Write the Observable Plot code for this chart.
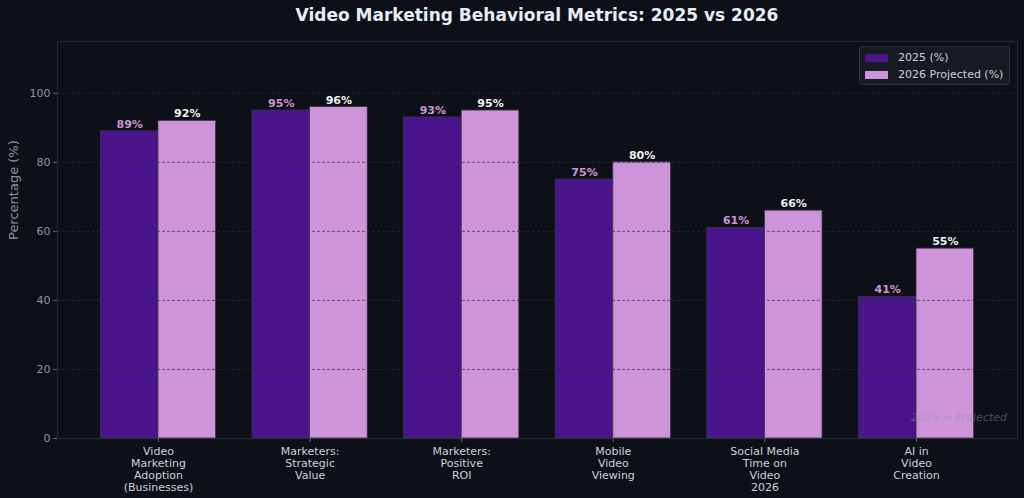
<!DOCTYPE html>
<html>
<head>
<meta charset="utf-8">
<script src="https://cdn.jsdelivr.net/npm/d3@7"></script>
<script src="https://cdn.jsdelivr.net/npm/@observablehq/plot@0.6"></script>
<style>
  html, body { margin: 0; padding: 0; background: #0d1117; }
  #wrap { position: relative; width: 1024px; height: 498px; background: #0d1117; font-family: "DejaVu Sans", sans-serif; overflow: hidden; }
  #title { height: 32px; line-height: 30px; text-align: center; color: #e6edf3; font-weight: bold; font-size: 17px; padding-left: 50px; }
  #legend { position: absolute; left: 859px; top: 46px; width: 151px; height: 39px; background: #161b22; border: 1px solid #2a323c; border-radius: 3px; box-sizing: border-box; padding: 2px 5px; color: #c9d1d9; font-size: 11px; white-space: nowrap; }
  #legend .row { display: flex; align-items: center; height: 17px; }
  #legend .sw { width: 23px; height: 8px; margin-right: 10px; flex: none; }
  #note { position: absolute; right: 17px; top: 411px; color: #8b949e; opacity: 0.45; font-style: italic; font-size: 11px; }
</style>
</head>
<body>
<div id="wrap">
  <div id="title">Video Marketing Behavioral Metrics: 2025 vs 2026</div>
  <div id="chart"></div>
  <div id="legend"></div>
  <div id="note">2026 = Projected</div>
</div>
<script>
// Metric names (line breaks as shown under each group)
const categories = [
  "Video\nMarketing\nAdoption\n(Businesses)",
  "Marketers:\nStrategic\nValue",
  "Marketers:\nPositive\nROI",
  "Mobile\nVideo\nViewing",
  "Social Media\nTime on\nVideo\n2026",
  "AI in\nVideo\nCreation"
];
const values2025 = [89, 95, 93, 75, 61, 41];
const values2026 = [92, 96, 95, 80, 66, 55];
const seriesNames = ["2025 (%)", "2026 Projected (%)"];
const seriesColors = ["#4a148c", "#ce93d8"];
const labelColors = ["#ce93d8", "#f0f0f0"];
const yTicks = [0, 20, 40, 60, 80, 100];

const barWidth = 0.38;

// Long-format rows: one per bar
const rows = [];
categories.forEach((c, i) => {
  rows.push({i, cat: c, series: seriesNames[0], value: values2025[i], x1: i - barWidth, x2: i});
  rows.push({i, cat: c, series: seriesNames[1], value: values2026[i], x1: i, x2: i + barWidth});
});

const chart = Plot.plot({
  width: 1024,
  height: 466,
  marginTop: 9,
  marginBottom: 60,
  marginLeft: 57,
  marginRight: 7,
  style: {background: "#0d1117", fontFamily: "DejaVu Sans, sans-serif", overflow: "visible"},
  x: {domain: [-0.666, 5.666], axis: null},
  y: {domain: [0, 115], axis: null},
  color: {domain: seriesNames, range: seriesColors},
  marks: [
    Plot.frame({stroke: "#1f2a35", strokeWidth: 1.2}),
    Plot.rectY(rows, {x1: "x1", x2: "x2", y1: 0, y2: "value", fill: "series", stroke: "#3a3346", strokeWidth: 0.8}),
    // dashed grid drawn over the bars
    Plot.ruleY(yTicks.filter(d => d > 0), {stroke: "#263340", strokeOpacity: 0.75, strokeDasharray: "3,2", strokeWidth: 0.9}),
    Plot.axisY({ticks: yTicks, tickSize: 4, tickPadding: 3, stroke: "#5a6672", color: "#8b949e", fontSize: 11, label: null}),
    Plot.text(["Percentage (%)"], {frameAnchor: "left", dx: -44, rotate: -90, fill: "#8b949e", fontSize: 13}),
    Plot.axisX({ticks: d3.range(categories.length), tickFormat: i => categories[i], tickSize: 4, tickPadding: 4, stroke: "#5a6672", color: "#c9d1d9", fontSize: 11, lineHeight: 1.08, label: null}),
    Plot.text(rows, {
      x: d => (d.x1 + d.x2) / 2, y: "value", text: d => `${d.value}%`, dy: -7,
      fill: d => labelColors[seriesNames.indexOf(d.series)], fontWeight: "bold", fontSize: 11
    })
  ]
});
document.getElementById("chart").appendChild(chart);

// Legend box
const legend = document.getElementById("legend");
seriesNames.forEach((name, k) => {
  const row = document.createElement("div");
  row.className = "row";
  const sw = document.createElement("span");
  sw.className = "sw";
  sw.style.background = seriesColors[k];
  const label = document.createElement("span");
  label.textContent = name;
  row.appendChild(sw);
  row.appendChild(label);
  legend.appendChild(row);
});
</script>
</body>
</html>
